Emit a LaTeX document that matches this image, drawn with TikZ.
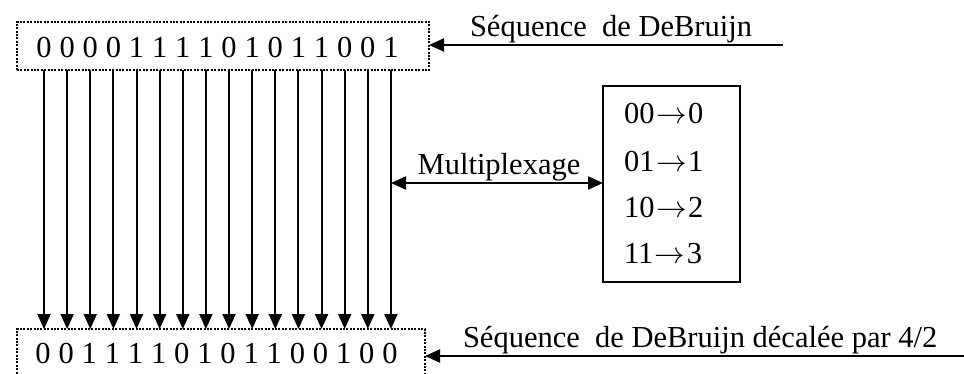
\RequirePackage{fix-cm}
\documentclass[tikz,border=0pt]{standalone}
\usepackage{fontspec}
\setmainfont{Liberation Serif}
\usetikzlibrary{arrows.meta}
\begin{document}
\begin{tikzpicture}[x=1pt,y=-1pt,
  every node/.style={inner sep=0pt,outer sep=0pt,font=\fontsize{30.5}{34}\selectfont},
  dotbox/.style={draw,line width=2pt,dash pattern=on 2pt off 1.4pt},
  tri/.style={-{Triangle[length=15pt,width=13pt]}},
  ln/.style={line width=2pt},
  digit/.style={anchor=base},
  maprow/.style={anchor=base west}]
\clip (0,0) rectangle (964,374);
\useasboundingbox (0,0) rectangle (964,374);
% boxes
\node[dotbox,minimum width=412pt,minimum height=48pt] (top) at (223,46) {};
\node[dotbox,minimum width=408pt,minimum height=90pt] (bot) at (221,374) {};
% digits
\foreach \d [count=\i from 0] in {0,0,0,0,1,1,1,1,0,1,0,1,1,0,0,1}{
  \node[digit] (t\i) at ({44+23.13*\i},58) {\d};
}
\foreach \d [count=\i from 0] in {0,0,1,1,1,1,0,1,0,1,1,0,0,1,0,0}{
  \node[digit] (b\i) at ({43+23.13*\i},363) {\d};
}
% vertical arrows
\foreach \i in {0,...,15}{
  \draw[ln,tri] (top.south -| t\i) -- (bot.north -| t\i);
}
% mapping box
\node[draw,line width=1.4pt,minimum width=137pt,minimum height=196pt] (map) at (671.5,184) {};
\node[maprow] (m0) at (624,124) {00\hspace{1.5pt}$\rightarrow$\hspace{1.5pt}0};
\node[maprow] (m1) at (624,172) {01\hspace{1.5pt}$\rightarrow$\hspace{1.5pt}1};
\node[maprow] (m2) at (624,218) {10\hspace{1.5pt}$\rightarrow$\hspace{1.5pt}2};
\node[maprow] (m3) at (624,263) {11\hspace{1.5pt}$\rightarrow$\hspace{1.5pt}3};
% multiplexage
\coordinate (mx) at (391,183);
\draw[ln,{Triangle[length=15pt,width=13pt]}-{Triangle[length=15pt,width=13pt]}] (mx) -- (map.west |- mx);
\node[anchor=base] (mlab) at (499,175) {Multiplexage};
% top label arrow
\coordinate (s1) at (783,45);
\draw[ln,tri] (s1) -- (top.east |- s1);
\node[anchor=base west] (l1) at (470,37) {Séquence\ \ de DeBruijn};
% bottom label arrow
\coordinate (s2) at (964,356);
\draw[ln,tri] (s2) -- (bot.east |- s2);
\node[anchor=base west] (l2) at (463,347) {Séquence\ \ de DeBruijn décalée par 4/2};
\end{tikzpicture}
\end{document}
